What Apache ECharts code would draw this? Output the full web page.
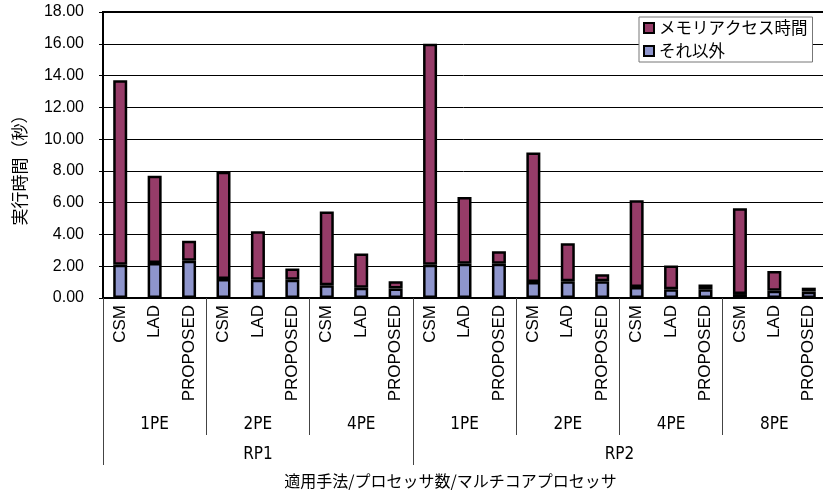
<!DOCTYPE html>
<html>
<head>
<meta charset="utf-8">
<script src="https://cdn.jsdelivr.net/npm/echarts@6/dist/echarts.min.js"></script>
<style>
  html, body { margin: 0; padding: 0; background: #fff; }
  #chart { width: 823px; height: 495px; }
</style>
</head>
<body>
<div id="chart"></div>
<script>
// カテゴリ（手法）
const methods = ['CSM', 'LAD', 'PROPOSED', 'CSM', 'LAD', 'PROPOSED', 'CSM', 'LAD', 'PROPOSED',
  'CSM', 'LAD', 'PROPOSED', 'CSM', 'LAD', 'PROPOSED', 'CSM', 'LAD', 'PROPOSED', 'CSM', 'LAD', 'PROPOSED']
// プロセッサ数のグループ
const peLabels = ['1PE', '2PE', '4PE', '1PE', '2PE', '4PE', '8PE']
const peCenters = [1.5, 4.5, 7.5, 10.5, 13.5, 16.5, 19.5]
const peBounds = [0, 3, 6, 9, 12, 15, 18, 21]
// マルチコアプロセッサのグループ
const rpLabels = ['RP1', 'RP2']
const rpCenters = [4.5, 15]
const rpBounds = [0, 9, 21]
// 値
const memoryTime = [11.6, 5.5, 1.25, 6.75, 3.05, 0.7, 4.65, 2.15, 0.45,
  13.9, 4.2, 0.8, 8.15, 2.4, 0.45, 5.45, 1.5, 0.3, 5.4, 1.25, 0.25]
const otherTime = [2.1, 2.2, 2.35, 1.2, 1.15, 1.15, 0.8, 0.65, 0.6,
  2.1, 2.15, 2.15, 1.0, 1.05, 1.05, 0.7, 0.55, 0.55, 0.25, 0.45, 0.4]
const yTicks = [0, 2, 4, 6, 8, 10, 12, 14, 16, 18]

const jp = '"Noto Sans CJK JP", sans-serif'
const arial = '"Liberation Sans", Arial, sans-serif'
const narrow = '"Liberation Sans Narrow", "DejaVu Sans Condensed", sans-serif'

const mycharts = echarts.init(document.getElementById('chart'))
mycharts.setOption({
  animation: false,
  grid: {
    left: 103, top: 12, right: -3, bottom: 197,
    show: true, borderColor: '#000', borderWidth: 2,
    containLabel: false, outerBoundsMode: 'none'
  },
  legend: {
    orient: 'vertical',
    left: 639, top: 17,
    data: ['メモリアクセス時間', 'それ以外'],
    icon: 'rect',
    itemWidth: 10, itemHeight: 10, itemGap: 3,
    backgroundColor: '#fff',
    borderColor: '#777', borderWidth: 1, borderRadius: 0,
    padding: [1, 5, 1, 4],
    textStyle: { fontFamily: jp, fontSize: 16.5, color: '#000', lineHeight: 20 }
  },
  xAxis: [
    {
      type: 'category',
      data: methods,
      axisLine: { lineStyle: { color: '#000', width: 2 } },
      axisTick: { interval: 0, length: 107, lineStyle: { color: '#444', width: 1 } },
      axisLabel: { interval: 0, rotate: 90, margin: 7, fontFamily: arial, fontSize: 17, color: '#000' },
      splitLine: { show: false }
    },
    {
      type: 'value', min: 0, max: 21, position: 'bottom',
      axisLine: { show: false },
      splitLine: { show: false },
      axisTick: { show: true, customValues: peBounds, length: 137, lineStyle: { color: '#444', width: 1 } },
      axisLabel: {
        customValues: peCenters, margin: 118, fontFamily: narrow, fontSize: 17, color: '#000',
        formatter: v => peLabels[peCenters.indexOf(v)]
      }
    },
    {
      type: 'value', min: 0, max: 21, position: 'bottom',
      axisLine: { show: false },
      splitLine: { show: false },
      axisTick: { show: true, customValues: rpBounds, length: 167, lineStyle: { color: '#444', width: 1 } },
      axisLabel: {
        customValues: rpCenters, margin: 148, fontFamily: narrow, fontSize: 17, color: '#000',
        formatter: v => rpLabels[rpCenters.indexOf(v)]
      },
      name: '適用手法/プロセッサ数/マルチコアプロセッサ',
      nameLocation: 'middle', nameGap: 175,
      nameTextStyle: { fontFamily: jp, fontSize: 16, color: '#000', padding: [0, 28, 0, 0] }
    }
  ],
  yAxis: {
    type: 'value', min: yTicks[0], max: yTicks[yTicks.length - 1], interval: 2,
    axisLine: { show: true, lineStyle: { color: '#000', width: 2 } },
    axisTick: { show: true, length: 4, lineStyle: { color: '#000' } },
    axisLabel: { margin: 19, fontFamily: arial, fontSize: 16, color: '#000', formatter: v => v.toFixed(2) },
    splitLine: { lineStyle: { color: '#000', width: 1 } },
    name: '実行時間（秒）', nameLocation: 'middle', nameGap: 75, nameRotate: 90,
    nameTextStyle: { fontFamily: jp, fontSize: 17, color: '#000', padding: [0, 22, 0, 0] }
  },
  series: [
    {
      name: 'それ以外', type: 'bar', stack: 'total', data: otherTime,
      barWidth: 14,
      itemStyle: { color: '#8E95CC', borderColor: '#000', borderWidth: 2.5 }
    },
    {
      name: 'メモリアクセス時間', type: 'bar', stack: 'total', data: memoryTime,
      barWidth: 14,
      itemStyle: { color: '#963C68', borderColor: '#000', borderWidth: 2.5 }
    }
  ]
})
</script>
</body>
</html>
